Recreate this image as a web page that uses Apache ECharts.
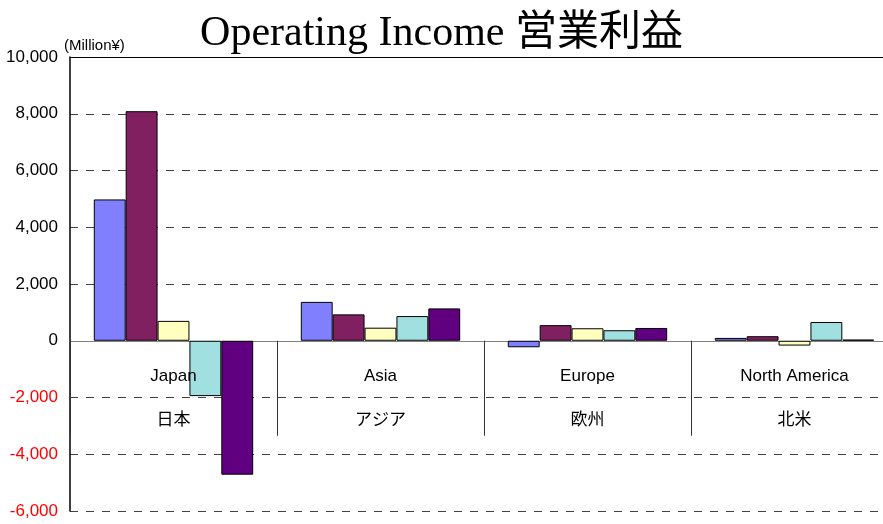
<!DOCTYPE html>
<html>
<head>
<meta charset="utf-8">
<script src="https://cdn.jsdelivr.net/npm/echarts@6/dist/echarts.min.js"></script>
<style>
  html, body { margin: 0; padding: 0; background: #fff; }
  #chart { width: 883px; height: 524px; }
</style>
</head>
<body>
<div id="chart"></div>
<script>
// 地域
var regionsEn = ['Japan', 'Asia', 'Europe', 'North America'];
var regionsJa = ['日本', 'アジア', '欧州', '北米'];
// 5つの系列 (百万円)
var series1 = [4980, 1370, -230, 100];
var series2 = [8090, 930, 550, 160];
var series3 = [700, 460, 440, -170];
var series4 = [-1950, 870, 370, 660];
var series5 = [-4720, 1140, 450, 40];
var barColors = ['#8080ff', '#802060', '#ffffc0', '#a0e0e0', '#600080'];
var sans = "'Liberation Sans', Arial, sans-serif";

var chart = echarts.init(document.getElementById('chart'));

var categories = regionsEn.map(function (en, i) {
  return en + '\n' + regionsJa[i];
});

function bar(name, data, idx) {
  return {
    name: name,
    type: 'bar',
    data: data,
    barGap: 0,
    barCategoryGap: '23%',
    itemStyle: { color: barColors[idx], borderColor: '#000', borderWidth: 1 }
  };
}

chart.setOption({
  animation: false,
  title: {
    text: 'Operating Income 営業利益',
    left: 'center',
    top: 8,
    textStyle: {
      fontFamily: "'Liberation Serif', 'Noto Sans CJK JP', serif",
      fontWeight: 'normal',
      fontSize: 42,
      color: '#000'
    }
  },
  graphic: [{
    type: 'text',
    left: 64,
    top: 38,
    style: { text: '(Million¥)', font: '15px ' + sans, fill: '#000' }
  }],
  grid: { left: 70, right: -15, top: 57, bottom: 13, outerBoundsMode: 'none', containLabel: false },
  xAxis: [{
    // 0 の軸線と区切り線
    type: 'category',
    data: categories,
    axisLine: { onZero: true, lineStyle: { color: '#808080' } },
    axisTick: { show: true, length: 95, lineStyle: { color: '#333' } },
    axisLabel: { show: false }
  }, {
    // 上端の枠線
    type: 'category',
    position: 'top',
    data: categories,
    axisLine: { show: true, lineStyle: { color: '#000' } },
    axisTick: { show: false },
    axisLabel: { show: false }
  }, {
    // 地域名ラベル (棒より前面)
    type: 'category',
    position: 'bottom',
    offset: -171,
    z: 10,
    data: categories,
    axisLine: { show: false, onZero: false },
    axisTick: { show: false },
    axisLabel: {
      margin: 14,
      lineHeight: 44,
      fontSize: 17,
      fontFamily: sans + ", 'Noto Sans CJK JP'",
      color: '#000'
    }
  }],
  yAxis: {
    type: 'value',
    min: -6000,
    max: 10000,
    interval: 2000,
    axisLine: { show: true, lineStyle: { color: '#000', width: 1.5 } },
    axisTick: { show: false },
    splitLine: { lineStyle: { color: '#444', type: [8, 8] } },
    axisLabel: {
      margin: 12,
      fontSize: 17,
      fontFamily: sans,
      formatter: function (v) { return v.toLocaleString('en-US'); },
      color: function (v) { return v < 0 ? '#ff0000' : '#000'; }
    }
  },
  series: [
    bar('s1', series1, 0),
    bar('s2', series2, 1),
    bar('s3', series3, 2),
    bar('s4', series4, 3),
    bar('s5', series5, 4)
  ]
});
</script>
</body>
</html>
